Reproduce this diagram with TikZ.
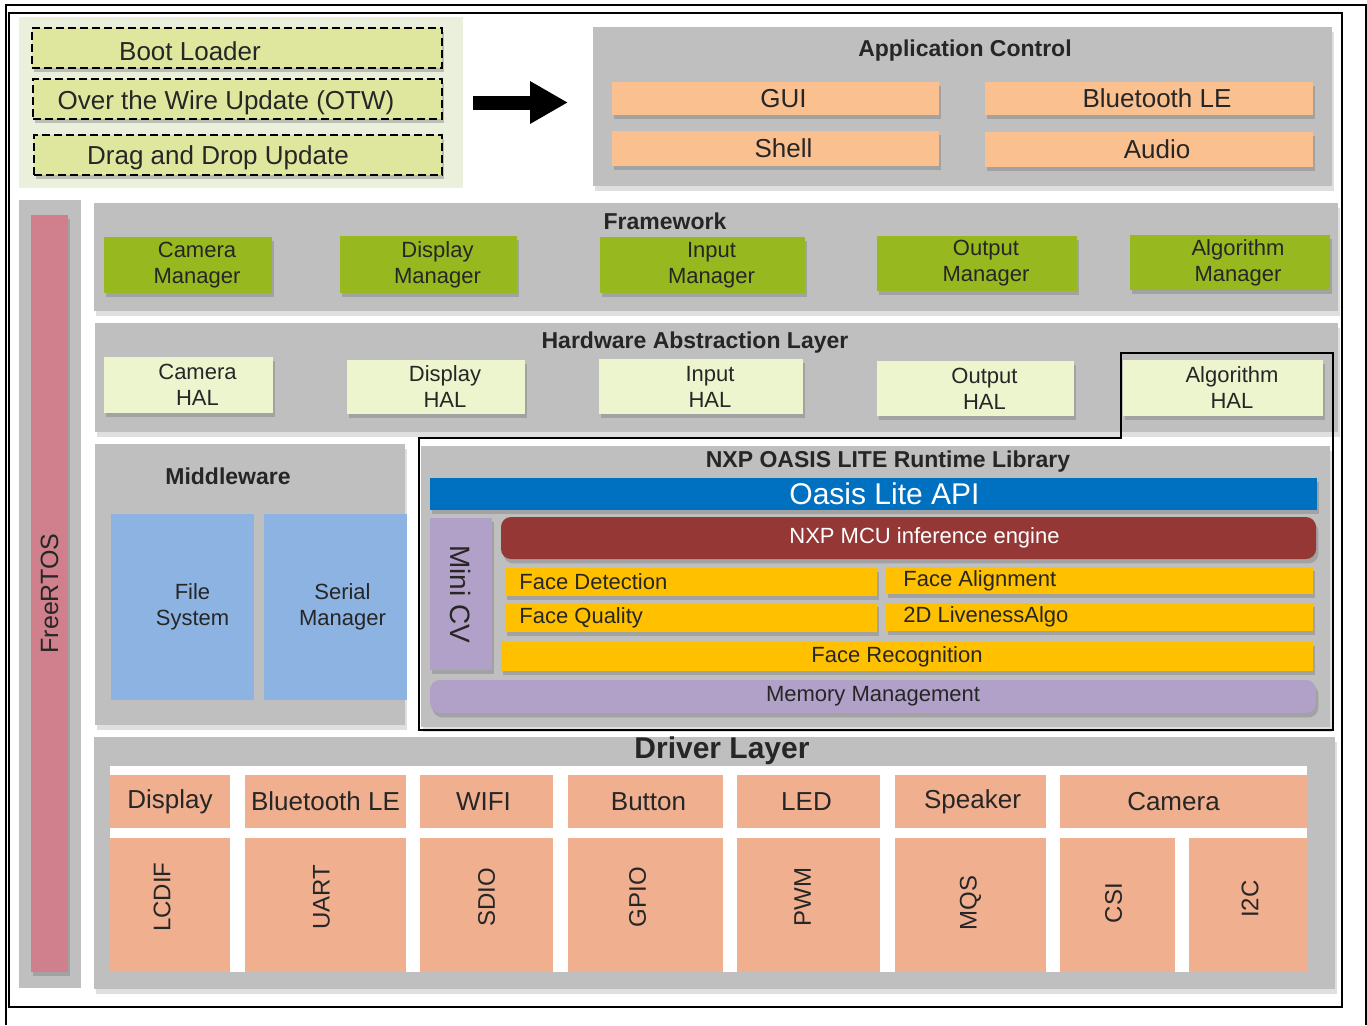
\documentclass[tikz,border=0pt]{standalone}
\usepackage{fontspec}
\setmainfont{Liberation Sans}
\usetikzlibrary{shadows,arrows.meta}

\definecolor{layergray}{HTML}{BFBFBF}
\definecolor{bootbg}{HTML}{EBF0DC}
\definecolor{bootbox}{HTML}{DEE79D}
\definecolor{appor}{HTML}{FAC090}
\definecolor{mgrgreen}{HTML}{97B81E}
\definecolor{halgreen}{HTML}{EDF5CF}
\definecolor{mwblue}{HTML}{8DB3E2}
\definecolor{apiblue}{HTML}{0070C0}
\definecolor{engred}{HTML}{953735}
\definecolor{faceyel}{HTML}{FFC000}
\definecolor{memlilac}{HTML}{B1A0C7}
\definecolor{drvor}{HTML}{F0B090}
\definecolor{rtospink}{HTML}{CF808C}

% two centred lines, pushed right by #1
\newcommand{\twoline}[3][9pt]{\hspace*{#1}#2\\\hspace*{#1}#3}

\begin{document}
\begin{tikzpicture}[x=0.5pt, y=-0.5pt,
  every node/.style={font=\fontsize{11}{13}\selectfont, text=black!85},
  rect/.style n args={4}{inner sep=0pt, outer sep=0pt,
    at={({(#1+#3)/2},{(#2+#4)/2})},
    minimum width={(#3-#1)*0.5pt}, minimum height={(#4-#2)*0.5pt}},
  tright/.style={execute at begin node={\hspace*{#1}}},
  tleft/.style={execute at end node={\hspace*{#1}}},
  shade/.style={drop shadow={shadow xshift=1.2pt, shadow yshift=-2.2pt, opacity=.45}},
  layer/.style={fill=layergray, drop shadow={shadow xshift=1pt, shadow yshift=-2.5pt, opacity=.25}},
  ttl/.style={font=\fontsize{11.5}{13}\selectfont\bfseries},
  big/.style={font=\fontsize{13}{15}\selectfont},
  updbox/.style={shade, fill=bootbox, draw=black, line width=0.8pt, dash pattern=on 4pt off 2pt},
  appbox/.style={shade, fill=appor, font=\fontsize{13}{15}\selectfont, tright=8pt},
  mgrbox/.style={shade, fill=mgrgreen, align=center},
  halbox/.style={shade, fill=halgreen, align=center},
  mwbox/.style={fill=mwblue, align=center},
  facebox/.style={shade, fill=faceyel},
  facetext/.style={anchor=west, inner sep=0pt},
  drvbox/.style={fill=drvor, font=\fontsize{13}{15}\selectfont},
  vtext/.style={rotate=90, font=\fontsize{12}{14}\selectfont}
]
\useasboundingbox[fill=white] (0,0) rectangle (1367,1025);

% frames
\draw[line width=1.1pt] (6,1025) -- (6,5) -- (1366,5) -- (1366,1025);
\draw[line width=1.3pt] (9,13) rectangle (1342,1007);

% Update options
\node[fill=bootbg, rect={19}{17}{463}{188}] (upd) {};
\node[updbox, rect={32}{28}{442}{68}] (boot) {};
\node[big] (boot-t) at (190,51) {Boot Loader};
\node[updbox, rect={33}{79}{442}{119}] (otw) {};
\node[big] (otw-t) at (226,103) {Over the Wire Update (OTW)};
\node[updbox, rect={34}{135}{442}{175}] (dnd) {};
\node[big] (dnd-t) at (218,158) {Drag and Drop Update};

% Application control
\node[layer, rect={593}{27}{1332}{186}] (app) {};
\node[ttl] (app-t) at (965,51) {Application Control};
\node[appbox, rect={612}{82}{939}{115}] (gui) {GUI};
\node[appbox, rect={985}{82}{1313}{115}] (ble) {Bluetooth LE};
\node[appbox, rect={612}{131}{939}{166}] (shell) {Shell};
\node[appbox, rect={985}{132}{1313}{167}] (audio) {Audio};

\draw[line width=7pt, -{Triangle[length=19pt, width=20pt]}]
  ([xshift=5pt]upd.east) -- ([xshift=-12.5pt]upd.east -| app.west);

% FreeRTOS
\node[fill=layergray, rect={19}{200}{81}{988}] (rtos-bg) {};
\node[shade, fill=rtospink, rect={31}{215}{68}{972}] (rtos) {};
\node[vtext, font=\fontsize{12.5}{14}\selectfont] (rtos-t) at (rtos) {FreeRTOS};

% Framework
\node[layer, rect={94}{203}{1338}{311}] (fw) {};
\node[ttl] (fw-t) at (665,221) {Framework};
\node[mgrbox, rect={104}{237}{272}{293}] (cam-mgr) {\twoline{Camera}{Manager}};
\node[mgrbox, rect={340}{236}{517}{293}] (disp-mgr) {\twoline{Display}{Manager}};
\node[mgrbox, rect={600}{237}{805}{293}] (in-mgr) {\twoline{Input}{Manager}};
\node[mgrbox, rect={877}{236}{1077}{291}] (out-mgr) {\twoline{Output}{Manager}};
\node[mgrbox, rect={1130}{235}{1330}{290}] (alg-mgr) {\twoline[8pt]{Algorithm}{Manager}};

% Hardware abstraction layer
\node[layer, rect={95}{323}{1338}{432}] (hal) {};
\node[ttl] (hal-t) at (695,343) {Hardware Abstraction Layer};
\node[halbox, rect={104}{357}{273}{413}] (cam-hal) {\twoline{Camera}{HAL}};
\node[halbox, rect={347}{360}{525}{414}] (disp-hal) {\twoline{Display}{HAL}};
\node[halbox, rect={599}{359}{803}{414}] (in-hal) {\twoline{Input}{HAL}};
\node[halbox, rect={877}{361}{1074}{416}] (out-hal) {\twoline{Output}{HAL}};
\node[halbox, rect={1123}{360}{1323}{416}] (alg-hal) {\twoline{Algorithm}{HAL}};

% Middleware
\node[layer, rect={95}{444}{405}{725}] (mw) {};
\node[ttl] (mw-t) at (228,476) {Middleware};
\node[mwbox, rect={111}{514}{254}{700}] (fs) {\twoline[10pt]{File}{System}};
\node[mwbox, rect={264}{514}{407}{700}] (sm) {\twoline[7pt]{Serial}{Manager}};

% NXP OASIS LITE runtime library
\node[layer, rect={421}{446}{1330}{727}] (oasis) {};
\draw[line width=0.9pt] (419,438) -- (1121,438) -- (1121,353) -- (1333,353)
  -- (1333,730) -- (419,730) -- cycle;
\node[ttl] (oasis-t) at (888,462) {NXP OASIS LITE Runtime Library};
\node[shade, fill=apiblue, text=white, font=\fontsize{15}{17}\selectfont,
  rect={430}{478}{1317}{510}, tright=11pt] (api) {Oasis Lite API};
\node[shade, fill=memlilac, rect={430}{518}{492}{670}] (minicv) {};
\node[rotate=-90, font=\fontsize{14}{16}\selectfont] (minicv-t) at (minicv) {Mini CV};
\node[shade, fill=engred, text=white, rounded corners=5pt,
  rect={501}{517}{1316}{559}, tright=16pt] (engine) {NXP MCU inference engine};
\node[facebox, rect={505}{568}{877}{596}] (fdet) {};
\node[facetext] (fdet-t) at ([xshift=7pt]fdet.west) {Face Detection};
\node[facebox, rect={886}{567}{1313}{594}] (falign) {};
\node[facetext] (falign-t) at ([xshift=8.5pt]falign.west) {Face Alignment};
\node[facebox, rect={505}{603}{877}{632}] (fqual) {};
\node[facetext] (fqual-t) at ([xshift=7pt]fqual.west) {Face Quality};
\node[facebox, rect={886}{603}{1313}{631}] (flive) {};
\node[facetext] (flive-t) at ([xshift=8.5pt]flive.west) {2D LivenessAlgo};
\node[facebox, rect={501}{642}{1313}{671}, tleft=10pt] (frec) {Face Recognition};
\node[shade, fill=memlilac, rounded corners=5pt,
  rect={430}{680}{1316}{713}] (mem) {Memory Management};

% Driver layer
\node[layer, rect={94}{737}{1335}{989}] (drv) {};
\node[font=\fontsize{15}{17}\selectfont\bfseries] (drv-t) at (722,751) {Driver Layer};
\node[fill=white, rect={110}{766}{1307}{972}] (drv-in) {};
\node[drvbox, rect={110}{775}{230}{828}] (d-disp) {Display};
\node[drvbox, rect={245}{775}{406}{828}] (d-ble) {Bluetooth LE};
\node[drvbox, rect={420}{775}{553}{828}, tleft=3pt] (d-wifi) {WIFI};
\node[drvbox, rect={568}{775}{723}{828}, tright=3pt] (d-btn) {Button};
\node[drvbox, rect={737}{775}{880}{828}, tleft=2pt] (d-led) {LED};
\node[drvbox, rect={895}{775}{1046}{828}, tright=2pt] (d-spk) {Speaker};
\node[drvbox, rect={1060}{775}{1307}{828}, tleft=10pt] (d-cam) {Camera};
\node[drvbox, rect={110}{838}{230}{972}] (lcdif) {};
\node[drvbox, rect={245}{838}{406}{972}] (uart) {};
\node[drvbox, rect={420}{838}{553}{972}] (sdio) {};
\node[drvbox, rect={568}{838}{723}{972}] (gpio) {};
\node[drvbox, rect={737}{838}{880}{972}] (pwm) {};
\node[drvbox, rect={895}{838}{1046}{972}] (mqs) {};
\node[drvbox, rect={1060}{838}{1175}{972}] (csi) {};
\node[drvbox, rect={1189}{838}{1307}{972}] (i2c) {};
\node[vtext] (lcdif-t) at ([xshift=-4pt, yshift=4pt]lcdif.center) {LCDIF};
\node[vtext] (uart-t) at ([xshift=-2pt, yshift=4pt]uart.center) {UART};
\node[vtext] (sdio-t) at ([yshift=4pt]sdio.center) {SDIO};
\node[vtext] (gpio-t) at ([xshift=-4pt, yshift=4pt]gpio.center) {GPIO};
\node[vtext] (pwm-t) at ([xshift=-3pt, yshift=4pt]pwm.center) {PWM};
\node[vtext] (mqs-t) at ([yshift=1pt]mqs.center) {MQS};
\node[vtext] (csi-t) at ([xshift=-2pt, yshift=1pt]csi.center) {CSI};
\node[vtext] (i2c-t) at ([xshift=1pt, yshift=3pt]i2c.center) {I2C};
\end{tikzpicture}
\end{document}
